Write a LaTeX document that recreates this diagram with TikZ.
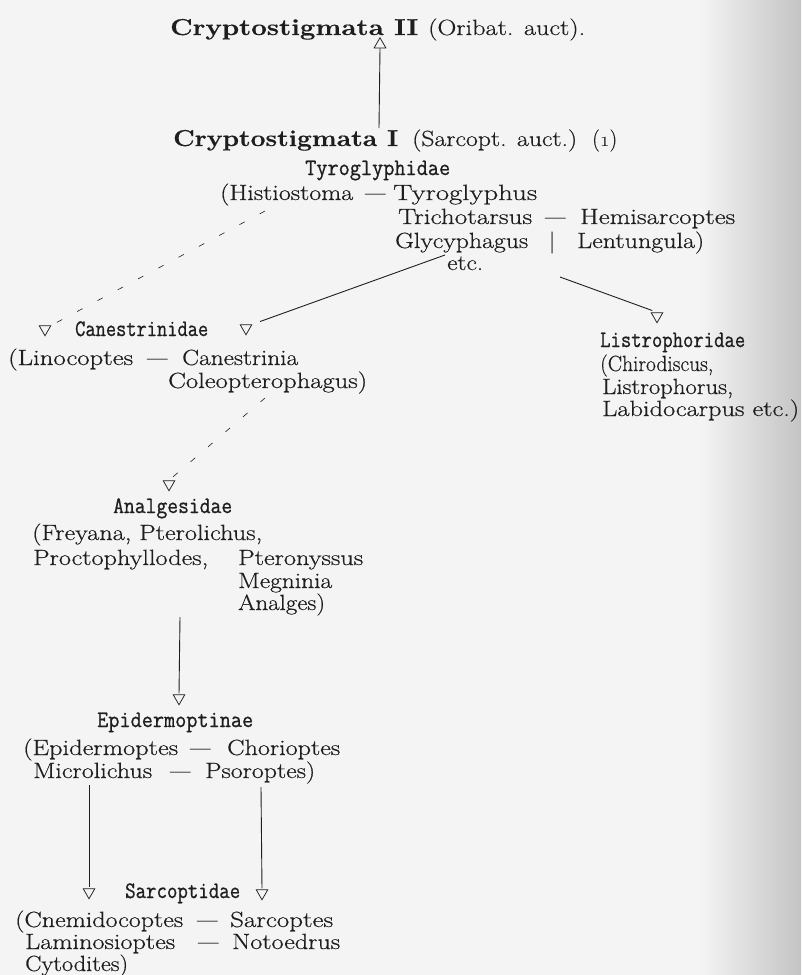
\documentclass[tikz,border=0pt]{standalone}
\usepackage{fontspec}
\usepackage{graphicx}
\setmainfont{Latin Modern Roman}[FakeBold=0.5]
\newfontfamily\hdfont{Latin Modern Mono}[FakeBold=0.9]
\usetikzlibrary{shapes.geometric}
\definecolor{ink}{HTML}{1E1E1E}
\definecolor{paper}{HTML}{F4F4F4}
\definecolor{shadow}{HTML}{C4C4C4}
\newcommand\fw[2]{\resizebox{#1pt}{\height}{#2}}
\newcommand\fh[2]{\resizebox{#1pt}{1.18\height}{#2}}
\begin{document}
\begin{tikzpicture}[x=1pt,y=-1pt,
  txt/.style={inner sep=0pt, anchor=base west, font=\fontsize{22}{26}\selectfont, text=ink},
  hd/.style={txt, font=\fontsize{20}{24}\selectfont\hdfont},
  bld/.style={txt, font=\fontsize{23}{28}\selectfont\bfseries},
  tridn/.style={regular polygon, regular polygon sides=3, shape border rotate=180, draw=ink, line width=0.75pt, minimum size=13.5pt, inner sep=0pt},
  triup/.style={tridn, shape border rotate=0},
  conn/.style={draw=ink, line width=0.9pt},
  dsh/.style={conn, line width=0.6pt, dash pattern=on 6pt off 17pt},
]
\useasboundingbox (0,0) rectangle (801,975);
\fill[paper] (0,0) rectangle (801,975);
\shade[left color=paper, right color=shadow] (700,0) rectangle (801,975);

% top
\node[bld] (c2a) at (170,35) {\fw{248}{Cryptostigmata II}};
\node[txt] (c2b) at (428,35) {\fw{157}{(Oribat. auct).}};
\node[triup] (tu) at (380,44.5) {};
\node[bld] (c1a) at (173,146) {\fw{225}{Cryptostigmata I}};
\node[txt] (c1b) at (412,146) {\fw{165}{(Sarcopt. auct.)}};
\node[txt] (c1c) at (592,146) {\fw{25}{({\usefont{OML}{cmm}{m}{it}1})}};

% Tyroglyphidae
\node[hd] (tyro) at (305,175) {\fh{145}{Tyroglyphidae}};
\node[txt] (h1) at (220,200) {\fw{133}{(Histiostoma}};
\node[txt] (h2) at (365,200) {—};
\node[txt] (h3) at (393,200) {\fw{144}{Tyroglyphus}};
\node[txt] (tr1) at (398,224) {\fw{134}{Trichotarsus}};
\node[txt] (tr2) at (545,224) {—};
\node[txt] (tr3) at (580,224) {\fw{155}{Hemisarcoptes}};
\node[txt] (gl1) at (395,248) {\fw{133}{Glycyphagus}};
\node[txt, anchor=base] (gl2) at (552,248) {|};
\node[txt] (gl3) at (577,248) {\fw{127}{Lentungula)}};
\node[txt] (etc) at (447,270) {\fw{36}{etc.}};

% Canestrinidae
\node[tridn] (tcl) at (45,329) {};
\node[tridn] (tcr) at (246,328) {};
\node[hd] (can) at (75,336) {\fh{133}{Canestrinidae}};
\node[txt] (l1) at (8,365) {\fw{125}{(Linocoptes}};
\node[txt] (l2) at (147,365) {—};
\node[txt] (l3) at (182,365) {\fw{116}{Canestrinia}};
\node[txt] (l4) at (168,388) {\fw{199}{Coleopterophagus)}};

% Listrophoridae
\node[tridn] (tl) at (657,316) {};
\node[hd] (lis) at (600,347) {\fh{145}{Listrophoridae}};
\node[txt] (li1) at (600,371) {\fw{113}{(Chirodiscus,}};
\node[txt] (li2) at (602,394) {\fw{131}{Listrophorus,}};
\node[txt] (li3) at (602,416) {\fw{197}{Labidocarpus etc.)}};

% Analgesidae
\node[tridn] (ta) at (169,484) {};
\node[hd] (ana) at (113,513) {\fh{119}{Analgesidae}};
\node[txt] (a1) at (32,540) {\fw{230}{(Freyana, Pterolichus,}};
\node[txt] (a2) at (33,565) {\fw{175}{Proctophyllodes,}};
\node[txt] (a3) at (238,565) {\fw{125}{Pteronyssus}};
\node[txt] (a4) at (238,588) {\fw{94}{Megninia}};
\node[txt] (a5) at (238,610) {\fw{87}{Analges)}};

% Epidermoptinae
\node[tridn] (te) at (179,698) {};
\node[hd] (epi) at (97,727) {\fh{156}{Epidermoptinae}};
\node[txt] (e1) at (23,755) {\fw{155}{(Epidermoptes}};
\node[txt] (e2) at (190,755) {—};
\node[txt] (e3) at (227,755) {\fw{113}{Chorioptes}};
\node[txt] (e4) at (33,778) {\fw{119}{Microlichus}};
\node[txt] (e5) at (170,778) {—};
\node[txt] (e6) at (205,778) {\fw{110}{Psoroptes)}};

% Sarcoptidae
\node[tridn] (ts1) at (89,892) {};
\node[tridn] (ts2) at (262,893) {};
\node[hd] (sar) at (125,898) {\fh{115}{Sarcoptidae}};
\node[txt] (s1) at (15,927) {\fw{168}{(Cnemidocoptes}};
\node[txt] (s2) at (197,927) {—};
\node[txt] (s3) at (230,927) {\fw{103}{Sarcoptes}};
\node[txt] (s4) at (25,949) {\fw{150}{Laminosioptes}};
\node[txt] (s5) at (198,949) {—};
\node[txt] (s6) at (232,949) {\fw{108}{Notoedrus}};
\node[txt] (s7) at (25,971) {\fw{103}{Cytodites)}};

% connectors
\coordinate (c1top) at (379,128);
\draw[conn] (c1top) -- (tu.south);
\coordinate (dA) at (265,211);
\draw[dsh, shorten >=5pt] (dA) -- (tcl.corner 2);
\coordinate (sB) at (445,255);
\draw[conn, shorten >=8pt] (sB) -- (tcr.corner 2);
\coordinate (sC) at (560,277);
\draw[conn, shorten >=5pt] (sC) -- (tl.north);
\coordinate (dD) at (265,398);
\draw[dsh, shorten >=5pt] (dD) -- (ta.north);
\coordinate (vA) at (180,617);
\draw[conn, shorten >=1pt] (vA) -- (te.north);
\coordinate (vB) at (89,785);
\draw[conn, shorten >=1pt] (vB) -- (ts1.north);
\coordinate (vC) at (261,787);
\draw[conn, shorten >=1pt] (vC) -- (ts2.north);
\end{tikzpicture}
\end{document}
